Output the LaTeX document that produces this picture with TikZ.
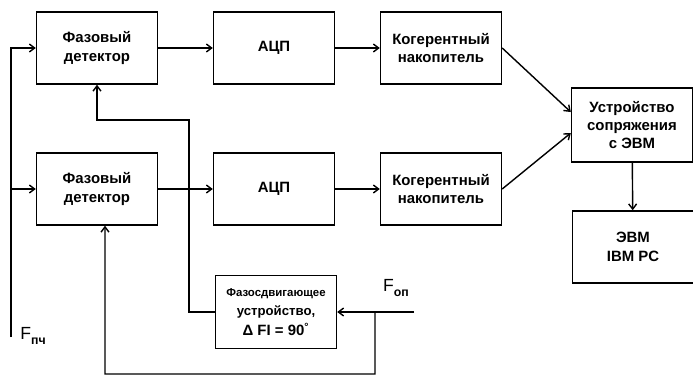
\documentclass[tikz,border=0pt]{standalone}
\usepackage{fontspec}
\setmainfont{Liberation Sans}
\usetikzlibrary{arrows.meta}

\begin{document}
\begin{tikzpicture}[x=0.02cm,y=-0.02cm,
  blk/.style={draw,line width=0.8pt,minimum width=2.42cm,minimum height=1.44cm,
    align=center,inner sep=1pt,font=\bfseries\fontsize{8.5}{10.5}\selectfont},
  wire/.style={line width=0.8pt},
  arr/.style={wire,-{Straight Barb[length=3pt,width=4.5pt]}},
  lbl/.style={inner sep=0pt,font=\fontsize{10}{12}\selectfont}]
  \useasboundingbox(0,0)rectangle(693,376);
  % upper channel
  \node[blk](pd1)at(97,48){Фазовый\\детектор};
  \node[blk](adc1)at(274,48){АЦП};
  \node[blk](kog1)at(441,48){Когерентный\\накопитель};
  % lower channel
  \node[blk](pd2)at(97,189){Фазовый\\детектор};
  \node[blk](adc2)at(274,189){АЦП};
  \node[blk](kog2)at(441,189){Когерентный\\накопитель};
  \node[blk,minimum height=1.48cm](iface)at(632,125){Устройство\\сопряжения\\с ЭВМ};
  \node[blk](evm)at(633,247){ЭВМ\\IBM PC};
  \node[blk,minimum height=1.46cm](shift)at(276,312){{\fontsize{6.5}{8}\selectfont Фазосдвигающее}\\
    {\fontsize{7.5}{9}\selectfont устройство,}\\[1pt]Δ FI = 90\textsuperscript{°}};
  \node[lbl](fpch)at(33,336){F\raisebox{-0.6ex}{\fontsize{7}{8}\selectfont\bfseries пч}};
  \node[lbl](fopl)at(396,288){F\raisebox{-0.6ex}{\fontsize{7}{8}\selectfont\bfseries оп}};
  \coordinate(fin)at(11,337);
  \coordinate(fsplit)at(11,189);
  \coordinate(fop)at(414,312);
  \coordinate(k1)at(189,120);
  \coordinate(k2)at(375,312);
  \coordinate(k3)at(105,374);
  \draw[arr](fin)|-(pd1.west);
  \draw[arr](fsplit)--(pd2.west);
  \draw[arr](pd1)--(adc1);
  \draw[arr](adc1)--(kog1);
  \draw[arr](pd2)--(adc2);
  \draw[arr](adc2)--(kog2);
  \draw[arr](kog1.east)--([yshift=0.26cm]iface.west);
  \draw[arr](kog2.east)--([yshift=-0.16cm]iface.west);
  \draw[arr](iface)--(evm);
  \draw[arr](fop)--(shift.east);
  \draw[arr](shift.west)-|(k1)-|(pd1.south);
  \draw[arr](k2)|-(k3)--([xshift=0.16cm]pd2.south);
\end{tikzpicture}
\end{document}
